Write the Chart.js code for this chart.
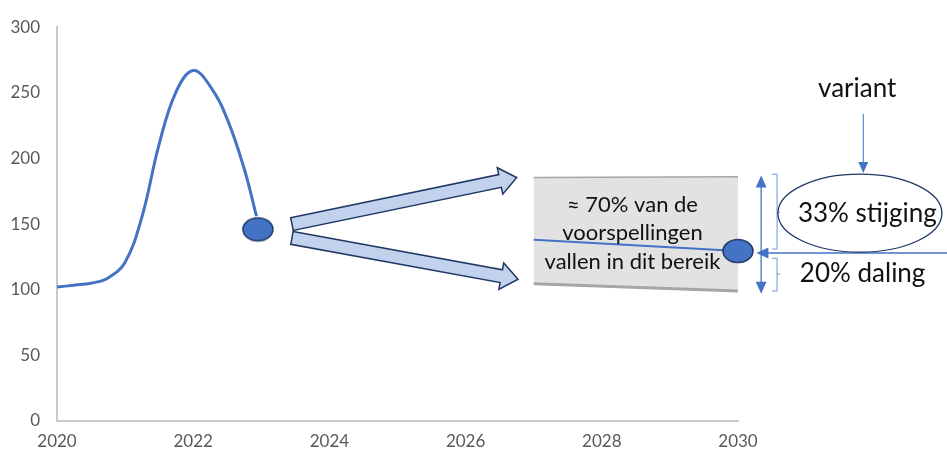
<!DOCTYPE html>
<html>
<head>
<meta charset="utf-8">
<script src="https://cdn.jsdelivr.net/npm/chart.js@4/dist/chart.umd.min.js"></script>
<style>
  html, body { margin: 0; padding: 0; background: #fff; }
  #wrap { width: 947px; height: 455px; }
</style>
</head>
<body>
<div id="wrap"><canvas id="chart" width="947" height="455"></canvas></div>
<script>
// history curve (year, value)
const histYears = [2020, 2020.25, 2020.5, 2020.75, 2021, 2021.25, 2021.5, 2021.75, 2022, 2022.25, 2022.5, 2022.75, 2022.93];
const histValues = [102, 103.5, 105, 109, 121, 156, 211, 251, 267, 255, 230, 192, 156];

const nowPoint = { x: 2022.95, y: 146 };
const endPoint = { x: 2030, y: 129.5 };

// forecast range 2027-2030
const bandYears = [2027, 2030];
const bandTop = [185, 185.5];
const bandBottom = [104.5, 99];
const forecastValues = [138, 129.5];

const xTicks = [2020, 2022, 2024, 2026, 2028, 2030];
const yTicks = [0, 50, 100, 150, 200, 250, 300];

const blue = '#4472C4';
const navy = '#1f3864';
const font = 'Lato, "Open Sans", sans-serif';

function ellipseMarker() {
  const c = document.createElement('canvas');
  c.width = 34; c.height = 28;
  const g = c.getContext('2d');
  g.beginPath();
  g.ellipse(17, 14, 15, 11.5, 0, 0, Math.PI * 2);
  g.fillStyle = blue;
  g.fill();
  g.lineWidth = 1.5;
  g.strokeStyle = navy;
  g.stroke();
  return c;
}
const marker = ellipseMarker();

function blockArrow(ctx, x0, y0, x1, y1, shaftW, headW, headL) {
  const a = Math.atan2(y1 - y0, x1 - x0);
  const len = Math.hypot(x1 - x0, y1 - y0);
  ctx.save();
  ctx.translate(x0, y0);
  ctx.rotate(a);
  ctx.beginPath();
  ctx.moveTo(0, -shaftW / 2);
  ctx.lineTo(len - headL, -shaftW / 2);
  ctx.lineTo(len - headL, -headW / 2);
  ctx.lineTo(len, 0);
  ctx.lineTo(len - headL, headW / 2);
  ctx.lineTo(len - headL, shaftW / 2);
  ctx.lineTo(0, shaftW / 2);
  ctx.closePath();
  ctx.fillStyle = '#c3d2ec';
  ctx.fill();
  ctx.lineWidth = 1.5;
  ctx.strokeStyle = navy;
  ctx.stroke();
  ctx.restore();
}

function lineArrowHead(ctx, x, y, ang, size) {
  ctx.save();
  ctx.translate(x, y);
  ctx.rotate(ang);
  ctx.beginPath();
  ctx.moveTo(0, 0);
  ctx.lineTo(-size, -size * 0.45);
  ctx.lineTo(-size, size * 0.45);
  ctx.closePath();
  ctx.fill();
  ctx.restore();
}

function brace(ctx, x, yTop, yBot, yMid, w) {
  ctx.beginPath();
  ctx.moveTo(x, yTop);
  ctx.lineTo(x + w, yTop);
  ctx.lineTo(x + w, yBot);
  ctx.lineTo(x, yBot);
  ctx.moveTo(x + w, yMid);
  ctx.lineTo(x + w + 3, yMid);
  ctx.stroke();
}

const annotations = {
  id: 'annotations',
  afterDatasetsDraw(chart) {
    const ctx = chart.ctx;
    const xs = chart.scales.x, ys = chart.scales.y;
    const px = v => xs.getPixelForValue(v);
    const py = v => ys.getPixelForValue(v);

    // split arrows
    blockArrow(ctx, px(2023.45), py(150), px(2026.75), py(185.5), 13, 27, 17);
    blockArrow(ctx, px(2023.45), py(139.5), px(2026.77), py(108), 13, 27, 17);

    // band text
    ctx.fillStyle = '#111';
    ctx.textAlign = 'center';
    ctx.textBaseline = 'middle';
    ctx.font = '22px ' + font;
    const cx = px(2028.45);
    ctx.fillText('\u2248 70% van de', cx, py(165));
    ctx.fillText('voorspellingen', cx, py(143));
    ctx.fillText('vallen in dit bereik', cx, py(121.5));

    ctx.strokeStyle = blue;
    ctx.fillStyle = blue;
    ctx.lineWidth = 1.3;

    // vertical double arrow
    const vx = px(2030.34);
    ctx.beginPath();
    ctx.moveTo(vx, py(184));
    ctx.lineTo(vx, py(100));
    ctx.stroke();
    lineArrowHead(ctx, vx, py(187), -Math.PI / 2, 12);
    lineArrowHead(ctx, vx, py(97), Math.PI / 2, 12);

    // horizontal arrow to end point
    const hy = py(128);
    ctx.beginPath();
    ctx.moveTo(px(2033.2), hy);
    ctx.lineTo(px(2030.35), hy);
    ctx.stroke();
    lineArrowHead(ctx, px(2030.27), hy, Math.PI, 12);

    // braces
    ctx.strokeStyle = '#6f94d4';
    ctx.lineWidth = 1;
    brace(ctx, px(2030.5), py(188), py(131), py(159), 5);
    brace(ctx, px(2030.5), py(124), py(99), py(112), 5);

    // variant arrow
    ctx.strokeStyle = blue;
    ctx.lineWidth = 1;
    const ax = px(2031.84);
    ctx.beginPath();
    ctx.moveTo(ax, py(234));
    ctx.lineTo(ax, py(193));
    ctx.stroke();
    lineArrowHead(ctx, ax, py(189), Math.PI / 2, 11);

    // ellipse
    ctx.beginPath();
    ctx.ellipse(px(2031.79), py(158.3), 82, 39, 0, 0, Math.PI * 2);
    ctx.strokeStyle = navy;
    ctx.lineWidth = 1.3;
    ctx.stroke();

    ctx.fillStyle = '#111';
    ctx.font = '26px ' + font;
    ctx.fillText('33% stijging', px(2031.9), py(158.3));
    ctx.fillText('20% daling', px(2031.83), py(112));
    ctx.fillText('variant', px(2031.75), py(253));
  }
};

new Chart(document.getElementById('chart'), {
  type: 'line',
  data: {
    datasets: [
      {
        data: bandYears.map((x, i) => ({ x, y: bandTop[i] })),
        borderColor: '#a6a6a6',
        borderWidth: 3,
        pointRadius: 0,
        fill: false,
        order: 5
      },
      {
        data: bandYears.map((x, i) => ({ x, y: bandBottom[i] })),
        borderColor: '#a6a6a6',
        borderWidth: 3,
        pointRadius: 0,
        backgroundColor: '#e2e2e2',
        fill: '-1',
        order: 4
      },
      {
        data: histYears.map((x, i) => ({ x, y: histValues[i] })),
        borderColor: blue,
        borderWidth: 3,
        pointRadius: 0,
        tension: 0.4,
        fill: false,
        order: 3
      },
      {
        data: bandYears.map((x, i) => ({ x, y: forecastValues[i] })),
        borderColor: blue,
        borderWidth: 2,
        pointRadius: 0,
        fill: false,
        order: 3
      },
      {
        data: [nowPoint, endPoint],
        showLine: false,
        pointStyle: marker,
        pointRadius: 12,
        clip: false,
        order: 1
      }
    ]
  },
  options: {
    responsive: false,
    animation: false,
    layout: { padding: { left: 0, right: 209, top: 25, bottom: 0 } },
    plugins: { legend: { display: false }, tooltip: { enabled: false } },
    scales: {
      x: {
        type: 'linear',
        min: 2020,
        max: 2030,
        afterBuildTicks: s => { s.ticks = xTicks.map(v => ({ value: v })); },
        afterFit: s => { s.height = 34; },
        grid: { display: false, drawTicks: false },
        border: { color: '#c9c9c9', width: 2 },
        ticks: {
          padding: 10,
          color: '#595959',
          font: { family: font, size: 17 },
          callback: v => String(v)
        }
      },
      y: {
        min: 0,
        max: 300,
        afterBuildTicks: s => { s.ticks = yTicks.map(v => ({ value: v })); },
        afterFit: s => { s.width = 57; },
        grid: { display: false, drawTicks: false },
        border: { color: '#c9c9c9', width: 2 },
        ticks: {
          padding: 17,
          color: '#595959',
          font: { family: font, size: 17 }
        }
      }
    }
  },
  plugins: [annotations]
});
</script>
</body>
</html>
